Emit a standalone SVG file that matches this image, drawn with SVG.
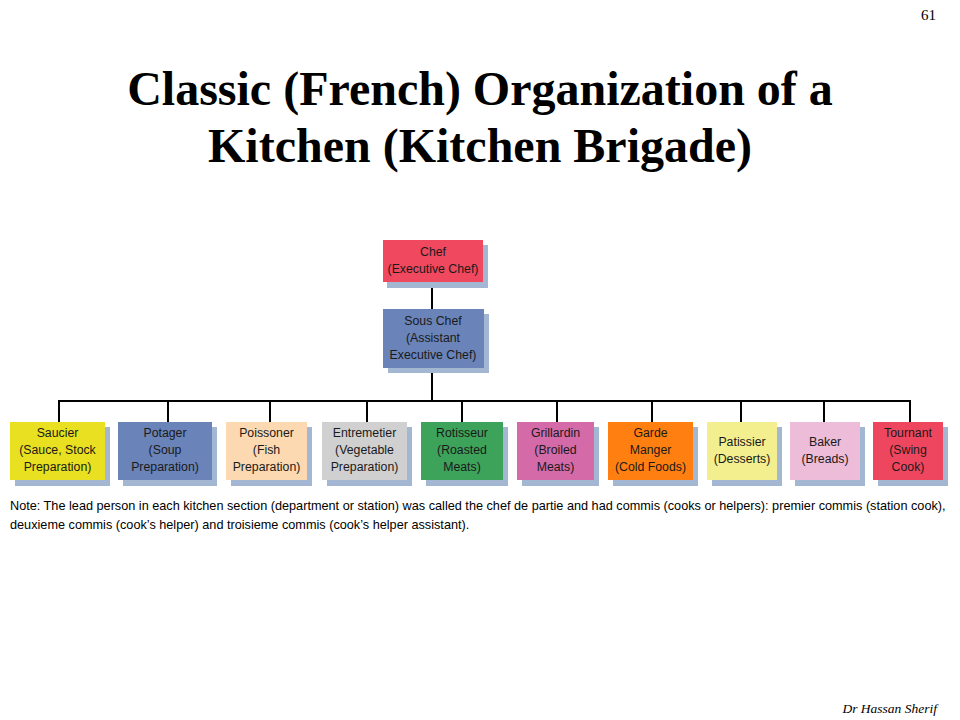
<svg xmlns="http://www.w3.org/2000/svg" width="960" height="720" viewBox="0 0 960 720">
<defs>
<style>
.sh{fill:#a3b6d2}
.t{font-family:"Liberation Sans",Arial,sans-serif;font-size:12.3px;fill:#1a1a1a;text-anchor:middle}
.ttl{font-family:"Liberation Serif","Times New Roman",serif;font-weight:bold;font-size:48px;fill:#000;text-anchor:middle}
.note{font-family:"Liberation Sans",Arial,sans-serif;font-size:12.7px;fill:#000}
.cn{stroke:#000;stroke-width:2;fill:none}
</style>
</defs>
<rect width="960" height="720" fill="#fff"/>
<text x="936" y="20" font-family="Liberation Serif,'Times New Roman',serif" font-size="15" text-anchor="end">61</text>
<text class="ttl" x="480" y="105">Classic (French) Organization of a</text>
<text class="ttl" x="480" y="162">Kitchen (Kitchen Brigade)</text>
<g id="connectors">
<path class="cn" d="M432 282V309M432 368V401M58 401H911M59 401V422M168 401V422M270 401V422M367 401V422M462 401V422M557 401V422M652 401V422M741 401V422M824 401V422M910 401V422"/>
</g>
<g id="chef"><rect class="sh" x="387" y="245" width="101" height="43"/><rect x="383" y="240" width="100" height="42" fill="#f0485e"/><text class="t" x="433" y="256">Chef</text><text class="t" x="433" y="273">(Executive Chef)</text></g>
<g id="sous"><rect class="sh" x="388" y="314" width="101" height="59"/><rect x="383" y="309" width="101" height="59" fill="#6a83b8"/><text class="t" x="433" y="325">Sous Chef</text><text class="t" x="433" y="342">(Assistant</text><text class="t" x="433" y="359">Executive Chef)</text></g>
<g id="saucier"><rect class="sh" x="15" y="427" width="95" height="59"/><rect x="10" y="422" width="95" height="58" fill="#e8e020"/><text class="t" x="57.5" y="437">Saucier</text><text class="t" x="57.5" y="454">(Sauce, Stock</text><text class="t" x="57.5" y="471">Preparation)</text></g>
<g id="potager"><rect class="sh" x="123" y="427" width="94" height="59"/><rect x="118" y="422" width="94" height="58" fill="#6a83b8"/><text class="t" x="165" y="437">Potager</text><text class="t" x="165" y="454">(Soup</text><text class="t" x="165" y="471">Preparation)</text></g>
<g id="poissoner"><rect class="sh" x="231" y="427" width="81" height="59"/><rect x="226" y="422" width="81" height="58" fill="#fcd9b0"/><text class="t" x="266.5" y="437">Poissoner</text><text class="t" x="266.5" y="454">(Fish</text><text class="t" x="266.5" y="471">Preparation)</text></g>
<g id="entremetier"><rect class="sh" x="327" y="427" width="85" height="59"/><rect x="322" y="422" width="85" height="58" fill="#d0d0d0"/><text class="t" x="364.5" y="437">Entremetier</text><text class="t" x="364.5" y="454">(Vegetable</text><text class="t" x="364.5" y="471">Preparation)</text></g>
<g id="rotisseur"><rect class="sh" x="426" y="427" width="82" height="59"/><rect x="421" y="422" width="82" height="58" fill="#3ea35a"/><text class="t" x="462" y="437">Rotisseur</text><text class="t" x="462" y="454">(Roasted</text><text class="t" x="462" y="471">Meats)</text></g>
<g id="grillardin"><rect class="sh" x="522" y="427" width="77" height="59"/><rect x="517" y="422" width="77" height="58" fill="#d56aa8"/><text class="t" x="555.5" y="437">Grillardin</text><text class="t" x="555.5" y="454">(Broiled</text><text class="t" x="555.5" y="471">Meats)</text></g>
<g id="garde"><rect class="sh" x="613" y="427" width="85" height="59"/><rect x="608" y="422" width="85" height="58" fill="#ff8010"/><text class="t" x="650.5" y="437">Garde</text><text class="t" x="650.5" y="454">Manger</text><text class="t" x="650.5" y="471">(Cold Foods)</text></g>
<g id="patissier"><rect class="sh" x="712" y="427" width="70" height="59"/><rect x="707" y="422" width="70" height="58" fill="#f3ef8e"/><text class="t" x="742" y="446">Patissier</text><text class="t" x="742" y="463">(Desserts)</text></g>
<g id="baker"><rect class="sh" x="795" y="427" width="70" height="59"/><rect x="790" y="422" width="70" height="58" fill="#ecbcd8"/><text class="t" x="825" y="446">Baker</text><text class="t" x="825" y="463">(Breads)</text></g>
<g id="tournant"><rect class="sh" x="878" y="427" width="70" height="59"/><rect x="873" y="422" width="70" height="58" fill="#ef4660"/><text class="t" x="908" y="437">Tournant</text><text class="t" x="908" y="454">(Swing</text><text class="t" x="908" y="471">Cook)</text></g>
<text class="note" x="10" y="510">Note: The lead person in each kitchen section (department or station) was called the chef de partie and had commis (cooks or helpers): premier commis (station cook),</text>
<text class="note" x="10" y="529">deuxieme commis (cook’s helper) and troisieme commis (cook’s helper assistant).</text>
<text x="937" y="713" font-family="Liberation Serif,'Times New Roman',serif" font-size="13.5" font-style="italic" text-anchor="end">Dr Hassan Sherif</text>
</svg>
